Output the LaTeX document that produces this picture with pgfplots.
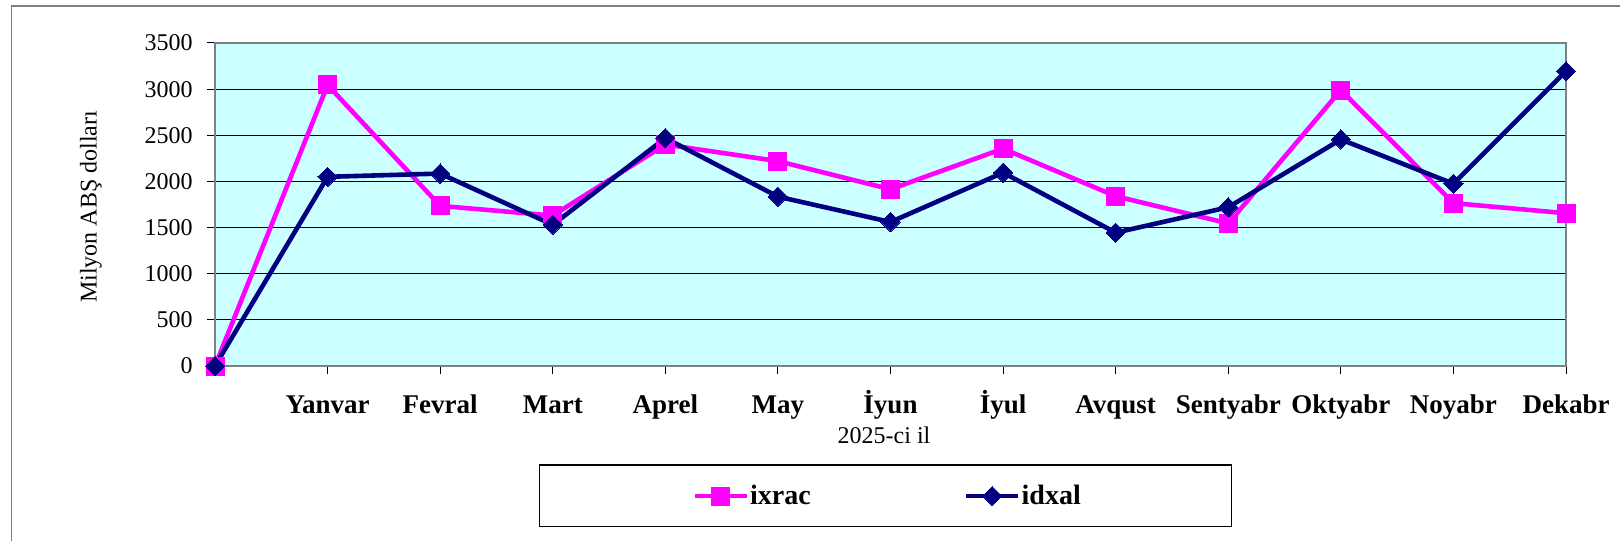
\documentclass[border=0pt]{standalone}
\usepackage{fontspec}
\setmainfont{Liberation Serif}
\usepackage{pgfplots}
\pgfplotsset{compat=1.18}
\definecolor{bgc}{HTML}{CCFFFF}
\definecolor{pinkc}{HTML}{FF00FF}
\definecolor{navyc}{HTML}{000080}
\definecolor{axgray}{HTML}{808080}
\pgfdeclareplotmark{ediamond}{%
  \pgfpathmoveto{\pgfqpoint{0pt}{\pgfplotmarksize}}%
  \pgfpathlineto{\pgfqpoint{\pgfplotmarksize}{0pt}}%
  \pgfpathlineto{\pgfqpoint{0pt}{-\pgfplotmarksize}}%
  \pgfpathlineto{\pgfqpoint{-\pgfplotmarksize}{0pt}}%
  \pgfpathclose\pgfusepathqfillstroke}
\begin{document}
\begin{tikzpicture}
\useasboundingbox (0,0) rectangle (810pt,270.5pt);
\draw[axgray, line width=0.6pt] (5.8pt,0pt) -- (5.8pt,267.5pt) -- (810pt,267.5pt);
\draw[black, line width=0.6pt] (269.7pt,7.2pt) rectangle (615.9pt,38pt);
\begin{axis}[
  at={(107.5pt,87.5pt)}, anchor=south west,
  scale only axis, width=675.5pt, height=161.5pt,
  xmin=0, xmax=12, ymin=0, ymax=3500,
  xtick={0,...,12},
  xticklabels={,Yanvar,Fevral,Mart,Aprel,May,İyun,İyul,Avqust,Sentyabr,Oktyabr,Noyabr,Dekabr},
  ytick={0,500,...,3500},
  tick pos=left, tick align=outside,
  major tick length=4pt,
  every tick/.style={black, line width=0.5pt},
  axis background/.style={fill=bgc},
  axis line style={axgray, line width=1pt},
  ymajorgrids, grid style={black, line width=0.5pt},
  /pgf/number format/assume math mode=true,
  /pgf/number format/1000 sep={},
  yticklabel style={font=\fontsize{12}{14}\selectfont, inner sep=0pt, xshift=-7pt},
  xticklabel style={font=\fontsize{13.5}{16}\selectfont\bfseries, anchor=base, yshift=-19.5pt},
  xlabel={2025-ci il},
  xlabel style={font=\fontsize{12}{14}\selectfont, at={(axis description cs:0.4952,-0.2384)}, anchor=base},
  ylabel={Milyon ABŞ dolları},
  ylabel style={font=\fontsize{12}{14}\selectfont, at={(axis description cs:-0.0918,0.4923)}, anchor=center},
  legend columns=2,
  legend style={draw=none, fill=none, at={(axis description cs:0.4975,-0.4025)}, anchor=center,
    inner sep=0pt, font=\fontsize{14}{16}\selectfont\bfseries,
    nodes={inner sep=0.6pt},
    /tikz/every even column/.append style={column sep=76pt}},
  legend image code/.code={\draw[mark repeat=2,mark phase=2,#1] plot coordinates {(0pt,0pt) (13pt,0pt) (26pt,0pt)};},
  clip=false,
]
\addplot[pinkc, line width=2.3pt, mark=square*, mark size=4.5pt, mark options={solid, fill=pinkc, draw=pinkc, line width=0pt}]
  coordinates {(0,0) (1,3045) (2,1735) (3,1630) (4,2400) (5,2220) (6,1915) (7,2355) (8,1840) (9,1545) (10,2990) (11,1765) (12,1655)};
\addlegendentry{ixrac}
\addplot[navyc, line width=2.3pt, mark=ediamond, mark size=4.8pt, mark options={solid, fill=navyc, draw=navyc, line width=0pt}]
  coordinates {(0,0) (1,2050) (2,2085) (3,1530) (4,2470) (5,1835) (6,1560) (7,2095) (8,1445) (9,1720) (10,2455) (11,1975) (12,3195)};
\addlegendentry{idxal}
\end{axis}
\end{tikzpicture}
\end{document}
